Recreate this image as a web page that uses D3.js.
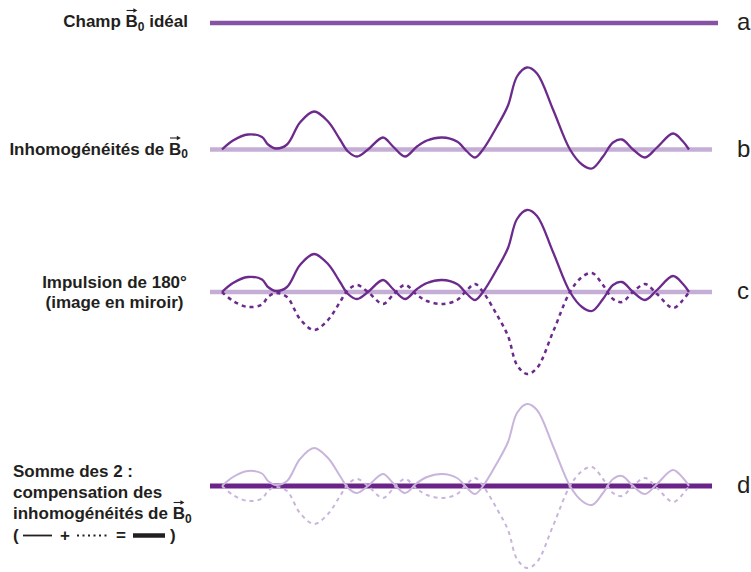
<!DOCTYPE html>
<html><head><meta charset="utf-8">
<script src="https://cdn.jsdelivr.net/npm/d3@7"></script>
<style>
html,body{margin:0;padding:0;background:#fff;}
svg{display:block;font-family:"Liberation Sans",Arial,Helvetica,sans-serif;}
</style></head>
<body>
<svg id="chart" width="751" height="572"></svg>
<script>
// ---- data ----
const panelIds = ["a", "b", "c", "d"];
// position along the field (arbitrary units) and field deviation (inhomogeneity)
const fieldPos = [12, 23, 38, 52, 58, 66, 77, 90, 104, 118, 130, 138, 147, 158, 173, 183, 195, 207, 217, 232, 247, 257, 265, 273, 287, 298, 307, 317, 327, 343, 360, 372, 382, 393, 403, 412, 423, 435, 447, 463, 473, 479];
const inhomog  = [0, 9, 15, 12.5, 5, 1, 5, 27, 38, 28, 10, -2, -7, 0, 12, 3, -7, 3, 9, 12, 8, -2, -8, 0, 23, 44, 73, 82, 76, 40, 0, -15, -19, -7, 7, 10, 0, -8, 2, 16, 8, 0];
const mirrored = inhomog.map(v => -v); // 180° pulse: mirror image
const fieldExtent = [0, 502];

// ---- layout ----
const baseY = {a: 23, b: 149.5, c: 292, d: 486};
const textCol = "#231f20";
const darkPurple = "#6b2a8c";
const lightPurple = "#c4aed6";

const svg = d3.select("#chart");
const x = d3.scaleLinear().domain(fieldExtent).range([210, 712]);
const y = d3.scaleLinear().domain([-100, 100]).range([100, -100]);
const ptsB = fieldPos.map((p, i) => [p, inhomog[i]]);
const ptsM = fieldPos.map((p, i) => [p, mirrored[i]]);
const line = d3.line().x(d => x(d[0])).y(d => y(d[1])).curve(d3.curveCatmullRom.alpha(0.5));

function panel(id) {
  return svg.append("g").attr("transform", `translate(0,${baseY[id]})`);
}

// a: ideal field
const ga = panel("a");
ga.append("line").attr("x1", x(fieldExtent[0])).attr("x2", x(fieldExtent[1]) + 6).attr("y1", 0).attr("y2", 0)
  .attr("stroke", "#8652a6").attr("stroke-width", 4.5);

// b: inhomogeneities
const gb = panel("b");
gb.append("line").attr("x1", x(fieldExtent[0])).attr("x2", x(fieldExtent[1])).attr("y1", 0).attr("y2", 0)
  .attr("stroke", lightPurple).attr("stroke-width", 4.5);
gb.append("path").attr("d", line(ptsB)).attr("fill", "none").attr("stroke", darkPurple).attr("stroke-width", 2.3);

// c: 180° pulse
const gc = panel("c");
gc.append("line").attr("x1", x(fieldExtent[0])).attr("x2", x(fieldExtent[1])).attr("y1", 0).attr("y2", 0)
  .attr("stroke", lightPurple).attr("stroke-width", 4.5);
gc.append("path").attr("d", line(ptsM)).attr("fill", "none").attr("stroke", darkPurple).attr("stroke-width", 2.5)
  .attr("stroke-dasharray", "4,4");
gc.append("path").attr("d", line(ptsB)).attr("fill", "none").attr("stroke", darkPurple).attr("stroke-width", 2.3);

// d: sum
const gd = panel("d");
gd.append("line").attr("x1", x(fieldExtent[0])).attr("x2", x(fieldExtent[1])).attr("y1", 0).attr("y2", 0)
  .attr("stroke", "#6a2389").attr("stroke-width", 4.8);
gd.append("path").attr("d", line(ptsM)).attr("fill", "none").attr("stroke", "#c9b5dc").attr("stroke-width", 2)
  .attr("stroke-dasharray", "4,4");
gd.append("path").attr("d", line(ptsB)).attr("fill", "none").attr("stroke", "#c9b5dc").attr("stroke-width", 2);

// right letters
panelIds.forEach(id => {
  svg.append("text").attr("x", 737).attr("y", baseY[id] + 7).text(id)
    .attr("font-size", 24).attr("fill", textCol);
});

// left labels
const labelFont = 17;
function labelLine(parent, xPos, yPos, anchor, parts) {
  const t = parent.append("text").attr("x", xPos).attr("y", yPos)
    .attr("text-anchor", anchor).attr("font-size", labelFont).attr("font-weight", "bold").attr("fill", textCol);
  let bIndex = -1, count = 0, shifted = false;
  parts.forEach(p => {
    if (p === "B0") {
      bIndex = count;
      t.append("tspan").text("B");
      t.append("tspan").text("0").attr("font-size", 12).attr("dy", 3.5);
      shifted = true;
      count += 2;
    } else {
      const ts = t.append("tspan").text(p);
      if (shifted) { ts.attr("dy", -3.5); shifted = false; }
      count += p.length;
    }
  });
  if (bIndex >= 0) {
    const ext = t.node().getExtentOfChar(bIndex);
    const ax = ext.x + 1, bx = ext.x + ext.width - 0.5, ay = yPos - 16.5;
    parent.append("line").attr("x1", ax).attr("x2", bx - 2).attr("y1", ay).attr("y2", ay)
      .attr("stroke", textCol).attr("stroke-width", 1.1);
    parent.append("path").attr("d", `M${bx},${ay} L${bx - 4},${ay - 2.2} L${bx - 4},${ay + 2.2} Z`).attr("fill", textCol);
  }
  return t;
}
labelLine(svg, 188, 27, "end", ["Champ ", "B0", " idéal"]);
labelLine(svg, 188, 154.5, "end", ["Inhomogénéités de ", "B0"]);
labelLine(svg, 114.5, 288, "middle", ["Impulsion de 180°"]);
labelLine(svg, 114.5, 307.5, "middle", ["(image en miroir)"]);
labelLine(svg, 13, 477, "start", ["Somme des 2 :"]);
labelLine(svg, 13, 498, "start", ["compensation des"]);
labelLine(svg, 13, 519, "start", ["inhomogénéités de ", "B0"]);

// legend row ( —— + ······ = ▬▬ )
const ly = 540.5, my = 535.5;
const lg = svg.append("g");
lg.append("text").attr("x", 13).attr("y", ly).text("(").attr("font-size", labelFont).attr("font-weight", "bold").attr("fill", textCol);
lg.append("line").attr("x1", 23).attr("x2", 52).attr("y1", my).attr("y2", my).attr("stroke", textCol).attr("stroke-width", 1.8);
lg.append("text").attr("x", 65).attr("y", ly).text("+").attr("text-anchor", "middle").attr("font-size", labelFont).attr("font-weight", "bold").attr("fill", textCol);
lg.append("line").attr("x1", 77).attr("x2", 108).attr("y1", my).attr("y2", my).attr("stroke", textCol).attr("stroke-width", 2).attr("stroke-dasharray", "2,3.5");
lg.append("text").attr("x", 121).attr("y", ly).text("=").attr("text-anchor", "middle").attr("font-size", labelFont).attr("font-weight", "bold").attr("fill", textCol);
lg.append("line").attr("x1", 133).attr("x2", 165).attr("y1", my).attr("y2", my).attr("stroke", textCol).attr("stroke-width", 4.5);
lg.append("text").attr("x", 170).attr("y", ly).text(")").attr("font-size", labelFont).attr("font-weight", "bold").attr("fill", textCol);
</script>
</body></html>
